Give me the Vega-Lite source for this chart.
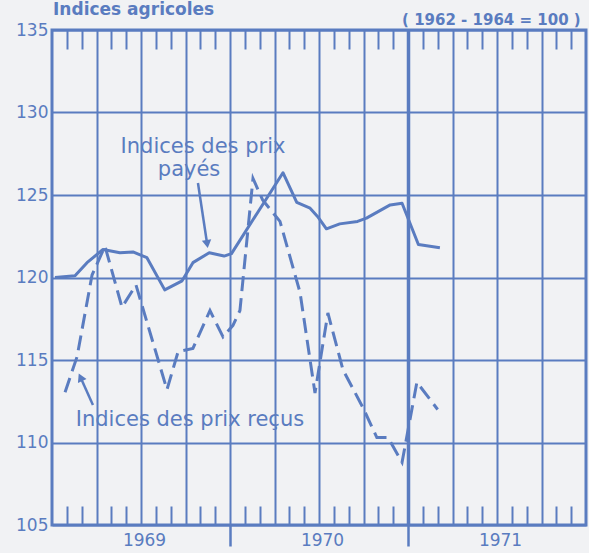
{
  "$schema": "https://vega.github.io/schema/vega-lite/v6.json",
  "width": 534,
  "height": 495,
  "autosize": {"type": "none"},
  "padding": {"left": 52, "top": 30, "right": 3, "bottom": 28},
  "background": "#f1f2f4",
  "config": {
    "view": {"stroke": "#5a7cc0", "strokeWidth": 3},
    "font": "DejaVu Sans",
    "axis": {"domain": false, "labelColor": "#5a7cc0", "tickColor": "#5a7cc0", "gridColor": "#5a7cc0", "gridOpacity": 1, "title": null, "labelFont": "DejaVu Sans"}
  },
  "datasets": {
    "series": [
      {"serie": "payés", "t": 0.2, "indice": 120.0},
      {"serie": "payés", "t": 1.55, "indice": 120.1},
      {"serie": "payés", "t": 2.36, "indice": 120.9},
      {"serie": "payés", "t": 3.44, "indice": 121.7},
      {"serie": "payés", "t": 4.58, "indice": 121.5},
      {"serie": "payés", "t": 5.46, "indice": 121.55},
      {"serie": "payés", "t": 6.4, "indice": 121.2},
      {"serie": "payés", "t": 7.6, "indice": 119.25},
      {"serie": "payés", "t": 8.77, "indice": 119.8},
      {"serie": "payés", "t": 9.5, "indice": 120.9},
      {"serie": "payés", "t": 10.6, "indice": 121.5},
      {"serie": "payés", "t": 11.6, "indice": 121.3},
      {"serie": "payés", "t": 12.1, "indice": 121.45},
      {"serie": "payés", "t": 15.57, "indice": 126.35},
      {"serie": "payés", "t": 16.5, "indice": 124.55},
      {"serie": "payés", "t": 17.4, "indice": 124.2},
      {"serie": "payés", "t": 17.9, "indice": 123.7},
      {"serie": "payés", "t": 18.5, "indice": 122.95},
      {"serie": "payés", "t": 19.4, "indice": 123.25},
      {"serie": "payés", "t": 20.6, "indice": 123.4},
      {"serie": "payés", "t": 21.2, "indice": 123.6},
      {"serie": "payés", "t": 22.8, "indice": 124.4},
      {"serie": "payés", "t": 23.6, "indice": 124.5},
      {"serie": "payés", "t": 24.7, "indice": 122.0},
      {"serie": "payés", "t": 26.15, "indice": 121.8},
      {"serie": "reçus", "t": 0.88, "indice": 113.05},
      {"serie": "reçus", "t": 1.69, "indice": 115.2},
      {"serie": "reçus", "t": 2.7, "indice": 120.15},
      {"serie": "reçus", "t": 3.57, "indice": 121.9},
      {"serie": "reçus", "t": 4.72, "indice": 118.2},
      {"serie": "reçus", "t": 5.66, "indice": 119.55},
      {"serie": "reçus", "t": 7.75, "indice": 113.2},
      {"serie": "reçus", "t": 8.5, "indice": 115.5},
      {"serie": "reçus", "t": 9.5, "indice": 115.7},
      {"serie": "reçus", "t": 10.65, "indice": 118.0},
      {"serie": "reçus", "t": 11.53, "indice": 116.4},
      {"serie": "reçus", "t": 12.2, "indice": 117.1},
      {"serie": "reçus", "t": 12.67, "indice": 118.0},
      {"serie": "reçus", "t": 13.55, "indice": 126.0},
      {"serie": "reçus", "t": 14.2, "indice": 124.7},
      {"serie": "reçus", "t": 15.37, "indice": 123.4},
      {"serie": "reçus", "t": 16.72, "indice": 119.1},
      {"serie": "reçus", "t": 17.73, "indice": 113.0},
      {"serie": "reçus", "t": 18.6, "indice": 117.85},
      {"serie": "reçus", "t": 19.62, "indice": 114.4},
      {"serie": "reçus", "t": 20.97, "indice": 112.1},
      {"serie": "reçus", "t": 21.9, "indice": 110.3},
      {"serie": "reçus", "t": 22.65, "indice": 110.3},
      {"serie": "reçus", "t": 23.6, "indice": 108.8},
      {"serie": "reçus", "t": 24.6, "indice": 113.65},
      {"serie": "reçus", "t": 26.0, "indice": 112.0}
    ],
    "fleches": [
      {"fleche": "payés", "t": 9.84, "v": 125.73, "t2": 10.46, "v2": 122.03},
      {"fleche": "reçus", "t": 2.76, "v": 112.27, "t2": 1.92, "v2": 113.95}
    ],
    "notes": [
      {"label": "Indices des prix", "t": 10.18, "v": 127.9},
      {"label": "payés", "t": 9.24, "v": 126.5},
      {"label": "Indices des prix reçus", "t": 9.3, "v": 111.36}
    ],
    "entete": [
      {"label": "Indices  agricoles", "t": 0.07, "v": 135.92}
    ],
    "base": [
      {"label": "( 1962 - 1964 = 100 )", "t": 23.6, "v": 135.6}
    ]
  },
  "resolve": {"axis": {"x": "independent", "y": "independent"}},
  "layer": [
    {
      "data": {"name": "series"},
      "transform": [{"filter": "datum.serie === 'payés'"}],
      "mark": {"type": "line", "color": "#5a7cc0", "strokeWidth": 3, "strokeJoin": "round"},
      "encoding": {
        "x": {"field": "t", "type": "quantitative", "scale": {"domain": [0, 36], "nice": false, "zero": false},
          "axis": {"values": [3, 6, 9, 12, 15, 18, 21, 24, 27, 30, 33], "grid": true, "gridWidth": {"condition": {"test": "datum.value === 24", "value": 3.5}, "value": 2}, "ticks": false, "labels": false}},
        "y": {"field": "indice", "type": "quantitative", "scale": {"domain": [105, 135], "nice": false, "zero": false},
          "axis": {"values": [105, 110, 115, 120, 125, 130, 135], "grid": true, "gridWidth": 2, "ticks": false, "labelFontSize": 17, "labelPadding": 4, "labelColor": "#5a7cc0"}}
      }
    },
    {
      "data": {"name": "series"},
      "transform": [{"filter": "datum.serie === 'reçus'"}],
      "mark": {"type": "line", "color": "#5a7cc0", "strokeWidth": 3, "strokeDash": [15, 7]},
      "encoding": {
        "x": {"field": "t", "type": "quantitative", "scale": {"domain": [0, 36], "nice": false, "zero": false},
          "axis": {"orient": "bottom", "values": [1, 2, 4, 5, 7, 8, 10, 11, 13, 14, 16, 17, 19, 20, 22, 23, 25, 26, 28, 29, 31, 32, 34, 35], "grid": false, "ticks": true, "tickSize": -19, "tickWidth": 2, "labels": false}},
        "y": {"field": "indice", "type": "quantitative", "scale": {"domain": [105, 135], "nice": false, "zero": false}, "axis": null}
      }
    },
    {
      "data": {"name": "notes"},
      "mark": {"type": "text", "color": "#5a7cc0", "fontSize": 21, "align": "center", "baseline": "middle"},
      "encoding": {
        "x": {"field": "t", "type": "quantitative", "scale": {"domain": [0, 36], "nice": false, "zero": false},
          "axis": {"orient": "top", "values": [1, 2, 4, 5, 7, 8, 10, 11, 13, 14, 16, 17, 19, 20, 22, 23, 25, 26, 28, 29, 31, 32, 34, 35], "grid": false, "ticks": true, "tickSize": -19, "tickWidth": 2, "labels": false}},
        "y": {"field": "v", "type": "quantitative", "scale": {"domain": [105, 135], "nice": false, "zero": false}, "axis": null},
        "text": {"field": "label"}
      }
    },
    {
      "data": {"name": "fleches"},
      "mark": {"type": "rule", "color": "#5a7cc0", "strokeWidth": 2.5},
      "encoding": {
        "x": {"field": "t", "type": "quantitative", "scale": {"domain": [0, 36], "nice": false, "zero": false},
          "axis": {"orient": "bottom", "values": [6, 18, 30], "labelExpr": "'' + (1969 + (datum.value - 6) / 12)", "ticks": false, "grid": false, "labelPadding": 7, "labelOffset": 3, "labelFontSize": 17, "labelColor": "#5a7cc0"}},
        "x2": {"field": "t2"},
        "y": {"field": "v", "type": "quantitative", "scale": {"domain": [105, 135], "nice": false, "zero": false}, "axis": null},
        "y2": {"field": "v2"}
      }
    },
    {
      "data": {"name": "fleches"},
      "transform": [{"filter": "datum.fleche === 'payés'"}],
      "mark": {"type": "point", "shape": "triangle-down", "filled": true, "color": "#5a7cc0", "opacity": 1, "size": 90, "angle": 351.5},
      "encoding": {
        "x": {"field": "t2", "type": "quantitative", "scale": {"domain": [0, 36], "nice": false, "zero": false},
          "axis": {"orient": "bottom", "values": [12, 24], "ticks": true, "tickSize": 21, "tickWidth": 2.5, "labels": false, "grid": false}},
        "y": {"field": "v2", "type": "quantitative", "scale": {"domain": [105, 135], "nice": false, "zero": false}, "axis": null}
      }
    },
    {
      "data": {"name": "fleches"},
      "transform": [{"filter": "datum.fleche === 'reçus'"}],
      "mark": {"type": "point", "shape": "triangle-up", "filled": true, "color": "#5a7cc0", "opacity": 1, "size": 90, "angle": 335},
      "encoding": {
        "x": {"field": "t2", "type": "quantitative", "scale": {"domain": [0, 36], "nice": false, "zero": false}, "axis": null},
        "y": {"field": "v2", "type": "quantitative", "scale": {"domain": [105, 135], "nice": false, "zero": false}, "axis": null}
      }
    },
    {
      "data": {"name": "entete"},
      "mark": {"type": "text", "color": "#5a7cc0", "fontSize": 17, "fontWeight": "bold", "align": "left", "baseline": "alphabetic"},
      "encoding": {
        "x": {"field": "t", "type": "quantitative", "scale": {"domain": [0, 36], "nice": false, "zero": false}, "axis": null},
        "y": {"field": "v", "type": "quantitative", "scale": {"domain": [105, 135], "nice": false, "zero": false}, "axis": null},
        "text": {"field": "label"}
      }
    },
    {
      "data": {"name": "base"},
      "mark": {"type": "text", "color": "#5a7cc0", "fontSize": 15, "fontWeight": "bold", "align": "left", "baseline": "middle"},
      "encoding": {
        "x": {"field": "t", "type": "quantitative", "scale": {"domain": [0, 36], "nice": false, "zero": false}, "axis": null},
        "y": {"field": "v", "type": "quantitative", "scale": {"domain": [105, 135], "nice": false, "zero": false}, "axis": null},
        "text": {"field": "label"}
      }
    }
  ]
}
